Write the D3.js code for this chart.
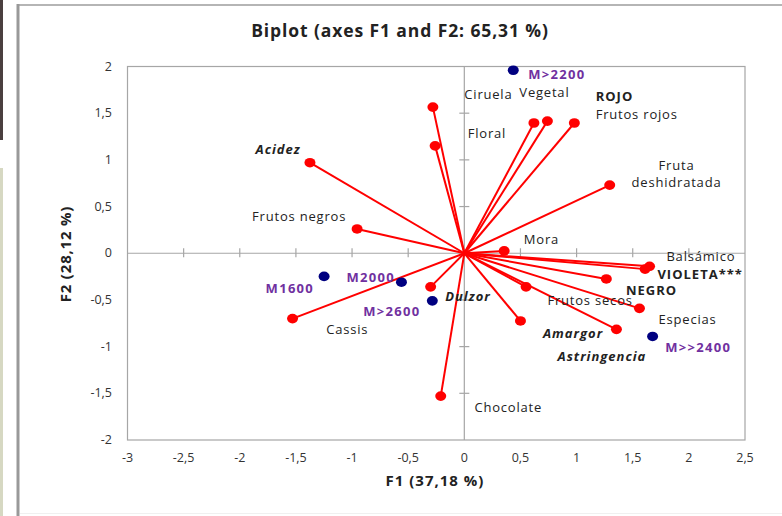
<!DOCTYPE html>
<html><head><meta charset="utf-8">
<script src="https://cdn.jsdelivr.net/npm/d3@7"></script>
<style>
html,body{margin:0;padding:0;background:#fff;}
svg{display:block;font-family:"Open Sans",sans-serif;}
</style></head>
<body>
<svg id="chart" width="782" height="516"></svg>
<script>
// Variables (red vectors)
const varNames = ["Ciruela","Floral","Acidez","Frutos negros","Vegetal","ROJO","Frutos rojos","Fruta deshidratada","Mora","Balsámico","VIOLETA***","NEGRO","Frutos secos","Especias","Amargor","Astringencia","Dulzor","Cassis","Chocolate"];
const varF1 = [-0.28,-0.26,-1.375,-0.955,0.62,0.74,0.98,1.295,0.355,1.65,1.61,1.265,0.55,1.56,0.50,1.355,-0.30,-1.53,-0.21];
const varF2 = [1.565,1.15,0.97,0.26,1.395,1.415,1.395,0.73,0.025,-0.14,-0.17,-0.275,-0.36,-0.59,-0.725,-0.815,-0.36,-0.70,-1.53];
// label anchor positions (data units) and style
const varLabelF1 = [0.0,0.03,-1.86,-1.89,0.49,1.17,1.17,1.89,0.53,1.8,1.72,1.44,0.74,1.73,0.7,0.83,-0.17,-1.23,0.09];
const varLabelF2 = [1.7,1.28,1.11,0.39,1.72,1.68,1.49,0.94,0.15,-0.04,-0.23,-0.4,-0.51,-0.71,-0.86,-1.11,-0.46,-0.82,-1.65];
const varLabelStyle = ["n","n","bi","n","n","b","n","n","n","n","b","b","n","n","bi","bi","bi","n","n"];

// Observations (blue points)
const obsNames = ["M>2200","M1600","M2000","M>2600","M>>2400"];
const obsF1 = [0.436,-1.249,-0.56,-0.285,1.677];
const obsF2 = [1.96,-0.248,-0.31,-0.51,-0.891];
const obsLabelF1 = [0.57,-1.77,-1.05,-0.90,1.79];
const obsLabelF2 = [1.91,-0.38,-0.26,-0.62,-1.01];

const xTicks = [-3,-2.5,-2,-1.5,-1,-0.5,0,0.5,1,1.5,2,2.5];
const yTicks = [-2,-1.5,-1,-0.5,0,0.5,1,1.5,2];

const title = "Biplot (axes F1 and F2: 65,31 %)";
const xTitle = "F1 (37,18 %)";
const yTitle = "F2 (28,12 %)";

const svg = d3.select("#chart");
const fmt = v => String(v).replace(".", ",");

// page artifacts
svg.append("rect").attr("x",0).attr("y",0).attr("width",3).attr("height",140).attr("fill","#4a3f3f");
svg.append("rect").attr("x",0).attr("y",168).attr("width",3).attr("height",348).attr("fill","#d6d8c2");
// outer frame
svg.append("line").attr("x1",18).attr("x2",782).attr("y1",5).attr("y2",5).attr("stroke","#b5b5b5").attr("stroke-width",2);
svg.append("line").attr("x1",18).attr("x2",18).attr("y1",4).attr("y2",516).attr("stroke","#999").attr("stroke-width",3);
svg.append("line").attr("x1",20).attr("x2",782).attr("y1",513.5).attr("y2",513.5).attr("stroke","#f0f0f0").attr("stroke-width",1);

const x = d3.scaleLinear().domain([-3,2.5]).range([127.5,745]);
const y = d3.scaleLinear().domain([-2,2]).range([440,66.5]);

// plot border
svg.append("rect").attr("x",x(-3)).attr("y",y(2)).attr("width",x(2.5)-x(-3)).attr("height",y(-2)-y(2))
  .attr("fill","none").attr("stroke","#a6a6a6").attr("stroke-width",1.2);

// axes at zero
const gx = svg.append("g").attr("transform",`translate(0,${y(0)})`);
gx.append("line").attr("x1",x(-3)).attr("x2",x(2.5)).attr("stroke","#a6a6a6").attr("stroke-width",1.2);
gx.selectAll("line.t").data(xTicks.filter(d=>d>-3&&d<2.5&&d!==0)).join("line").attr("class","t")
  .attr("x1",d=>x(d)).attr("x2",d=>x(d)).attr("y1",-5).attr("y2",4).attr("stroke","#a6a6a6").attr("stroke-width",1.2);
const gy = svg.append("g").attr("transform",`translate(${x(0)},0)`);
gy.append("line").attr("y1",y(2)).attr("y2",y(-2)).attr("stroke","#a6a6a6").attr("stroke-width",1.2);
gy.selectAll("line.t").data(yTicks.filter(d=>d>-2&&d<2&&d!==0)).join("line").attr("class","t")
  .attr("y1",d=>y(d)).attr("y2",d=>y(d)).attr("x1",-5).attr("x2",5).attr("stroke","#a6a6a6").attr("stroke-width",1.2);

// tick labels
svg.append("g").selectAll("text").data(xTicks).join("text")
  .attr("x",d=>x(d)).attr("y",462).attr("text-anchor","middle")
  .attr("font-size",12.5).attr("fill","#333").text(fmt);
svg.append("g").selectAll("text").data(yTicks).join("text")
  .attr("x",112).attr("y",d=>y(d)+4).attr("text-anchor","end")
  .attr("font-size",12.5).attr("fill","#333").text(fmt);

// titles
svg.append("text").attr("x",400).attr("y",37).attr("text-anchor","middle").attr("font-size",17.5).attr("letter-spacing",0.9).attr("font-weight","bold").attr("fill","#222").text(title);
svg.append("text").attr("x",435).attr("y",486).attr("text-anchor","middle").attr("font-size",15).attr("letter-spacing",1).attr("font-weight","bold").attr("fill","#222").text(xTitle);
svg.append("text").attr("transform","translate(71,254) rotate(-90)").attr("text-anchor","middle").attr("font-size",15).attr("letter-spacing",0.8).attr("font-weight","bold").attr("fill","#222").text(yTitle);

// vectors
const vars = varNames.map((n,i)=>({n, f1:varF1[i], f2:varF2[i], lx:varLabelF1[i], ly:varLabelF2[i], s:varLabelStyle[i]}));
svg.append("g").selectAll("line").data(vars).join("line")
  .attr("x1",x(0)).attr("y1",y(0)).attr("x2",d=>x(d.f1)).attr("y2",d=>y(d.f2))
  .attr("stroke","#ff0000").attr("stroke-width",2);
svg.append("g").selectAll("ellipse").data(vars).join("ellipse")
  .attr("cx",d=>x(d.f1)).attr("cy",d=>y(d.f2)).attr("rx",5.5).attr("ry",4.8).attr("fill","#ff0000");

// obs
const obs = obsNames.map((n,i)=>({n, f1:obsF1[i], f2:obsF2[i], lx:obsLabelF1[i], ly:obsLabelF2[i]}));
svg.append("g").selectAll("ellipse").data(obs).join("ellipse")
  .attr("cx",d=>x(d.f1)).attr("cy",d=>y(d.f2)).attr("rx",5.5).attr("ry",4.8).attr("fill","#000080");

// variable labels
const vl = svg.append("g");
vars.forEach(d=>{
  const lines = d.n === "Fruta deshidratada" ? ["Fruta","deshidratada"] : [d.n];
  const bold = d.s.includes("b");
  const t = vl.append("text").attr("x",x(d.lx)).attr("y",y(d.ly)+4.5)
    .attr("text-anchor", lines.length>1 ? "middle" : "start")
    .attr("font-size",13).attr("letter-spacing", bold ? 1.0 : 0.8).attr("fill", "#222")
    .attr("font-weight", bold?"bold":"normal")
    .attr("font-style", d.s.includes("i")?"italic":"normal");
  lines.forEach((l,k)=>t.append("tspan").attr("x",x(d.lx)).attr("dy",k===0?0:17).text(l));
});
// obs labels
svg.append("g").selectAll("text").data(obs).join("text")
  .attr("x",d=>x(d.lx)).attr("y",d=>y(d.ly)+4.5).attr("font-size",13).attr("letter-spacing",1.3).attr("font-weight","bold")
  .attr("fill","#7030a0").text(d=>d.n);
</script>
</body></html>
